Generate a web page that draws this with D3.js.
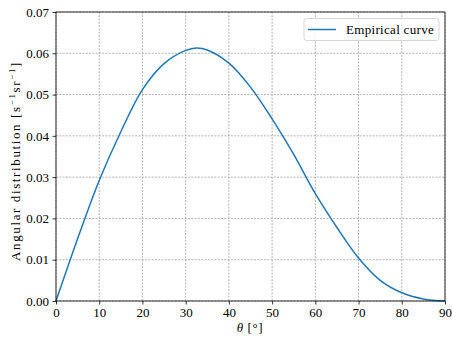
<!DOCTYPE html>
<html><head><meta charset="utf-8">
<script src="https://cdn.jsdelivr.net/npm/d3@7"></script>
<style>body{margin:0;background:#fff}svg{display:block}text{font-family:"Liberation Serif","DejaVu Serif",serif;fill:#000}</style>
</head><body>
<script>
const thetaDeg = [0,5,10,15,20,25,30,32.5,35,40,45,50,55,60,65,70,75,80,85,90];
const angularDist = [0,0.0151,0.0292,0.0410,0.0512,0.0575,0.0607,0.0613,0.0608,0.0576,0.0518,0.0441,0.0355,0.0260,0.0178,0.0104,0.0050,0.0020,0.0005,0];
const xTicks = [0,10,20,30,40,50,60,70,80,90];
const yTicks = [0,0.01,0.02,0.03,0.04,0.05,0.06,0.07];
const seriesName = "Empirical curve";

const W=452,H=338, m={l:56,r:7,t:12,b:37};
const svg=d3.select("body").append("svg").attr("width",W).attr("height",H);
const x=d3.scaleLinear().domain([0,90]).range([m.l,W-m.r]);
const y=d3.scaleLinear().domain([0,0.07]).range([H-m.b,m.t]);

// grid
const g=svg.append("g");
g.selectAll(".gx").data(xTicks).join("line").attr("x1",d=>x(d)).attr("x2",d=>x(d)).attr("y1",y(0)).attr("y2",y(0.07))
 .attr("stroke","#a0a0a0").attr("stroke-width",0.8).attr("stroke-dasharray","2,1.3");
g.selectAll(".gy").data(yTicks).join("line").attr("y1",d=>y(d)).attr("y2",d=>y(d)).attr("x1",x(0)).attr("x2",x(90))
 .attr("stroke","#a0a0a0").attr("stroke-width",0.8).attr("stroke-dasharray","2,1.3");

// line
const pts=thetaDeg.map((t,i)=>[t,angularDist[i]]);
svg.append("path").datum(pts).attr("fill","none").attr("stroke","#1f77b4").attr("stroke-width",1.5)
 .attr("d",d3.line().x(d=>x(d[0])).y(d=>y(d[1])).curve(d3.curveCatmullRom.alpha(0.5)));

// frame
svg.append("rect").attr("x",x(0)).attr("y",y(0.07)).attr("width",x(90)-x(0)).attr("height",y(0)-y(0.07))
 .attr("fill","none").attr("stroke","#000").attr("stroke-width",0.8);

// axes
const ax=svg.append("g").attr("transform",`translate(0,${y(0)})`).call(d3.axisBottom(x).tickValues(xTicks).tickSize(3.5).tickPadding(3.5).tickFormat(d3.format("d")));
const ay=svg.append("g").attr("transform",`translate(${x(0)},0)`).call(d3.axisLeft(y).tickValues(yTicks).tickSize(3.5).tickPadding(3.5).tickFormat(d3.format(".2f")));
[ax,ay].forEach(a=>{a.select(".domain").remove();a.selectAll("line").attr("stroke","#000").attr("stroke-width",0.8);
 a.selectAll("text").attr("font-family","Liberation Serif, DejaVu Serif, serif").attr("font-size",13).attr("fill","#000");});

// axis labels
const xl=svg.append("text").attr("x",250).attr("y",332).attr("text-anchor","middle").attr("font-size",13).attr("letter-spacing",0.6);
xl.append("tspan").attr("font-style","italic").text("θ");
xl.append("tspan").text(" [°]");
const yl=svg.append("text").attr("transform",`translate(19.5,${161}) rotate(-90)`).attr("text-anchor","middle").attr("font-size",13);
yl.append("tspan").text("Angular distribution [s");
yl.append("tspan").attr("dy",-5).attr("font-size",9).text("−1");
yl.append("tspan").attr("dy",5).text("sr");
yl.append("tspan").attr("dy",-5).attr("font-size",9).text("−1");
yl.append("tspan").attr("dy",5).text("]");
{
  const len=yl.node().getComputedTextLength();
  const n=yl.text().length;
  const target=200;
  if(len<target) yl.attr("letter-spacing",((target-len)/n).toFixed(2));
}

// legend
const lg=svg.append("g");
lg.append("rect").attr("x",304).attr("y",18.5).attr("width",135).attr("height",22).attr("rx",2.5)
 .attr("fill","#fff").attr("fill-opacity",0.8).attr("stroke","#cccccc").attr("stroke-width",0.8);
lg.append("line").attr("x1",308).attr("x2",336).attr("y1",29.5).attr("y2",29.5).attr("stroke","#1f77b4").attr("stroke-width",1.5);
const lt=lg.append("text").attr("x",346).attr("y",34).attr("font-size",13).text(seriesName);
{
  const len=lt.node().getComputedTextLength(); const target=88;
  if(len<target) lt.attr("letter-spacing",((target-len)/seriesName.length).toFixed(2));
}
</script>
</body></html>
